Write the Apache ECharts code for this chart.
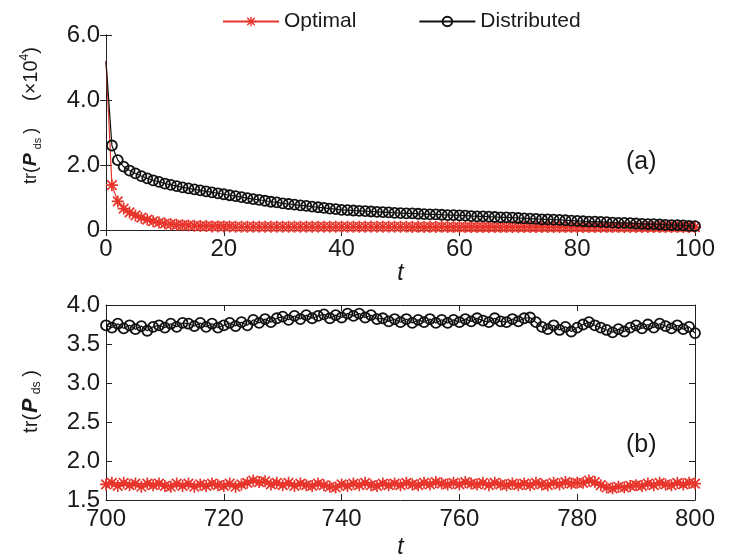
<!DOCTYPE html>
<html><head><meta charset="utf-8">
<script src="https://cdn.jsdelivr.net/npm/echarts@6/dist/echarts.min.js"></script>
<style>html,body{margin:0;padding:0;background:#fff}#c{width:729px;height:560px}</style>
</head><body><div id="c"></div>
<script>
// ---- Data ----
const seriesNames = ['Optimal', 'Distributed'];
const topT0 = 0;      // panel (a) starts at t = 0, one sample per step
const botT0 = 700;    // panel (b) starts at t = 700, one sample per step

const topOptimal = [
  5.20,1.38,0.88,0.66,0.54,0.45,0.38,0.32,0.27,0.23,
  0.20,0.18,0.16,0.15,0.14,0.13,0.12,0.12,0.11,0.11,
  0.11,0.11,0.10,0.10,0.10,0.10,0.10,0.10,0.10,0.10,
  0.10,0.10,0.10,0.10,0.10,0.10,0.10,0.10,0.10,0.10,
  0.10,0.10,0.10,0.10,0.10,0.10,0.10,0.10,0.10,0.10,
  0.10,0.10,0.09,0.10,0.09,0.10,0.09,0.10,0.09,0.09,
  0.09,0.09,0.09,0.09,0.09,0.09,0.09,0.09,0.09,0.09,
  0.09,0.09,0.09,0.09,0.09,0.09,0.09,0.09,0.09,0.09,
  0.09,0.09,0.09,0.09,0.09,0.09,0.09,0.09,0.09,0.09,
  0.09,0.09,0.09,0.09,0.09,0.09,0.09,0.09,0.09,0.09,
  0.09
];
const topDistributed = [
  5.20,2.60,2.15,1.95,1.83,1.74,1.66,1.59,1.53,1.48,
  1.43,1.39,1.35,1.31,1.28,1.25,1.22,1.19,1.16,1.13,
  1.10,1.07,1.04,1.01,0.98,0.95,0.93,0.90,0.87,0.85,
  0.82,0.80,0.78,0.76,0.74,0.72,0.70,0.68,0.66,0.64,
  0.62,0.61,0.60,0.59,0.58,0.57,0.56,0.55,0.54,0.53,
  0.52,0.51,0.51,0.50,0.49,0.48,0.48,0.47,0.46,0.46,
  0.45,0.44,0.43,0.42,0.42,0.41,0.40,0.39,0.39,0.38,
  0.37,0.36,0.35,0.34,0.33,0.33,0.32,0.31,0.30,0.29,
  0.28,0.27,0.26,0.26,0.25,0.24,0.23,0.22,0.22,0.21,
  0.20,0.19,0.18,0.18,0.17,0.16,0.15,0.15,0.14,0.13,
  0.12
];
const botOptimal = [
  1.70,1.72,1.68,1.72,1.69,1.71,1.67,1.71,1.69,1.71,
  1.68,1.67,1.71,1.68,1.71,1.67,1.70,1.68,1.71,1.69,
  1.68,1.71,1.67,1.70,1.72,1.75,1.73,1.74,1.70,1.72,
  1.69,1.72,1.68,1.71,1.69,1.68,1.71,1.69,1.67,1.66,
  1.70,1.68,1.71,1.69,1.72,1.69,1.68,1.71,1.69,1.71,
  1.69,1.72,1.70,1.69,1.72,1.70,1.73,1.71,1.70,1.72,
  1.70,1.73,1.71,1.70,1.72,1.69,1.72,1.70,1.69,1.71,
  1.69,1.71,1.69,1.72,1.70,1.69,1.72,1.70,1.73,1.71,
  1.72,1.72,1.75,1.73,1.69,1.66,1.65,1.67,1.66,1.68,
  1.69,1.68,1.71,1.69,1.72,1.70,1.69,1.72,1.70,1.72,
  1.71
];
const botDistributed = [
  3.74,3.71,3.76,3.70,3.74,3.69,3.73,3.67,3.72,3.74,
  3.71,3.76,3.72,3.77,3.76,3.73,3.77,3.72,3.76,3.71,
  3.74,3.77,3.73,3.78,3.74,3.81,3.77,3.82,3.78,3.83,
  3.85,3.81,3.86,3.82,3.87,3.83,3.86,3.88,3.83,3.87,
  3.84,3.89,3.86,3.89,3.84,3.87,3.82,3.83,3.79,3.82,
  3.78,3.82,3.77,3.81,3.78,3.82,3.77,3.81,3.77,3.81,
  3.78,3.82,3.79,3.83,3.80,3.78,3.83,3.79,3.78,3.82,
  3.79,3.83,3.84,3.78,3.72,3.69,3.74,3.68,3.72,3.66,
  3.71,3.75,3.78,3.74,3.71,3.68,3.65,3.69,3.66,3.71,
  3.74,3.70,3.75,3.71,3.76,3.73,3.70,3.74,3.69,3.72,
  3.64
];
const topXTicks = {min: 0, max: 100, interval: 20};
const topYTicks = {min: 0, max: 6, interval: 2};
const botXTicks = {min: 700, max: 800, interval: 20};
const botYTicks = {min: 1.5, max: 4, interval: 0.5};
const panelTags = ['(a)', '(b)'];

// ---- Chart ----
const FONT = 'Liberation Sans, Arial, Helvetica, sans-serif';
const RED = '#e8352b';
const BLACK = '#111';
const STAR = 'path://M0 8.6L20 8.6L20 11.4L0 11.4Z M8.6 0L11.4 0L11.4 20L8.6 20Z M1.1 3.1L3.1 1.1L18.9 16.9L16.9 18.9Z M16.9 1.1L18.9 3.1L3.1 18.9L1.1 16.9Z';

function pairs(t0, arr, hideFirst) {
  return arr.map((v, i) => (hideFirst && i === 0) ? {value: [t0 + i, v], symbol: 'none'} : [t0 + i, v]);
}

const tickLbl = {fontFamily: FONT, fontSize: 24, color: '#1a1a1a'};
function xAxes(gi, tk, nameGap) {
  return [
    {gridIndex: gi, type: 'value', position: 'bottom', min: tk.min, max: tk.max, interval: tk.interval,
     axisLine: {lineStyle: {color: '#222', width: 1}}, axisTick: {inside: true, length: 6, lineStyle: {color: '#222'}},
     axisLabel: Object.assign({margin: 7}, tickLbl), splitLine: {show: false},
     name: 't', nameLocation: 'middle', nameGap: nameGap,
     nameTextStyle: {fontFamily: FONT, fontSize: 23, fontStyle: 'italic', color: '#1a1a1a'}},
    {gridIndex: gi, type: 'value', position: 'top', min: tk.min, max: tk.max, interval: tk.interval,
     axisLine: {lineStyle: {color: '#222', width: 1}}, axisTick: {inside: true, length: 6, lineStyle: {color: '#222'}},
     axisLabel: {show: false}, splitLine: {show: false}}
  ];
}
function richName(scale) {
  return {
    g: {fontFamily: FONT, fontSize: 10, width: 34},
    g2: {fontFamily: FONT, fontSize: 10, width: 2},
    n: {fontFamily: FONT, fontSize: 18 * scale, color: '#1a1a1a'},
    m: {fontFamily: FONT, fontSize: 20, color: '#1a1a1a'},
    b: {fontFamily: FONT, fontSize: 19 * scale, fontWeight: 'bold', fontStyle: 'italic', color: '#1a1a1a', padding: [0, 1, 0, 1]},
    s: {fontFamily: FONT, fontSize: 11 * scale, color: '#1a1a1a', verticalAlign: 'bottom', lineHeight: 10, padding: [0, 4 * scale, 0, 3 * scale]},
    sup: {fontFamily: FONT, fontSize: 12, color: '#1a1a1a', verticalAlign: 'top', lineHeight: 12}
  };
}
function yAxes(gi, tk, name, fmt, scale) {
  return [
    {gridIndex: gi, type: 'value', position: 'left', min: tk.min, max: tk.max, interval: tk.interval,
     axisLine: {lineStyle: {color: '#222', width: 1}}, axisTick: {inside: true, length: 6, lineStyle: {color: '#222'}},
     axisLabel: Object.assign({margin: 6, formatter: fmt}, tickLbl), splitLine: {show: false},
     name: name, nameLocation: 'middle', nameGap: 63,
     nameTextStyle: {lineHeight: 24, rich: richName(scale)}},
    {gridIndex: gi, type: 'value', position: 'right', min: tk.min, max: tk.max, interval: tk.interval,
     axisLine: {lineStyle: {color: '#222', width: 1}}, axisTick: {inside: true, length: 6, lineStyle: {color: '#222'}},
     axisLabel: {show: false}, splitLine: {show: false}}
  ];
}

function optSeries(xi, yi, data) {
  return {name: seriesNames[0], type: 'line', xAxisIndex: xi, yAxisIndex: yi, data: data,
    symbol: STAR, symbolSize: 12, showSymbol: true, animation: false,
    lineStyle: {color: RED, width: 1.2}, itemStyle: {color: RED}, z: 2};
}
function distSeries(xi, yi, data) {
  return {name: seriesNames[1], type: 'line', xAxisIndex: xi, yAxisIndex: yi, data: data,
    symbol: 'circle', symbolSize: 10, showSymbol: true, animation: false,
    lineStyle: {color: BLACK, width: 1.2},
    itemStyle: {color: 'rgba(255,255,255,0)', borderColor: BLACK, borderWidth: 1.8}, z: 3};
}

const chart = echarts.init(document.getElementById('c'), null, {renderer: 'canvas'});
chart.setOption({
  backgroundColor: '#fff',
  animation: false,
  legend: {
    data: seriesNames, left: 217, top: 6, itemWidth: 56, itemHeight: 12, itemGap: 62,
    textStyle: {fontFamily: FONT, fontSize: 21, color: '#1a1a1a', padding: [0, 0, 0, 0]}
  },
  grid: [
    {left: 106, top: 35, width: 589, height: 195},
    {left: 106, top: 305, width: 589, height: 195}
  ],
  xAxis: [].concat(xAxes(0, topXTicks, 30), xAxes(1, botXTicks, 36)),
  yAxis: [].concat(
    yAxes(0, topYTicks, '{g| }{n|tr(}{b|P}{s|ds}{n|)}        {m|(×10}{sup|4}{m|)}', v => v === 0 ? '0' : v.toFixed(1), 1),
    yAxes(1, botYTicks, '{g2| }{n|tr(}{b|P}{s|ds}{n|)}', v => v.toFixed(1), 1.12)
  ),
  graphic: [
    {type: 'text', left: 626, top: 150, style: {text: panelTags[0], font: '25px ' + FONT, fill: '#1a1a1a'}},
    {type: 'text', left: 626, top: 433, style: {text: panelTags[1], font: '25px ' + FONT, fill: '#1a1a1a'}}
  ],
  series: [
    optSeries(0, 0, pairs(topT0, topOptimal, true)),
    distSeries(0, 0, pairs(topT0, topDistributed, true)),
    optSeries(2, 2, pairs(botT0, botOptimal, false)),
    distSeries(2, 2, pairs(botT0, botDistributed, false))
  ]
});
</script></body></html>
